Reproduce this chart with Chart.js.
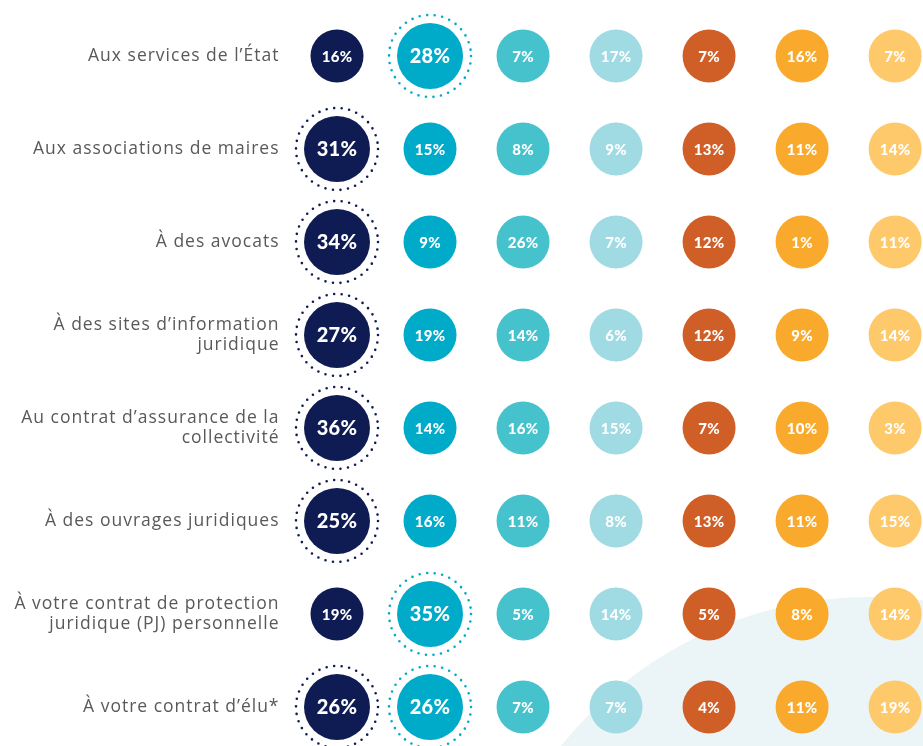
<!DOCTYPE html>
<html lang="fr">
<head>
<meta charset="utf-8">
<title>Vers qui vous tournez-vous ?</title>
<script src="https://cdn.jsdelivr.net/npm/chart.js@4/dist/chart.umd.min.js"></script>
<style>
  html, body { margin: 0; padding: 0; background: #ffffff; }
  #wrap { width: 923px; height: 746px; position: relative; }
</style>
</head>
<body>
<div id="wrap"><canvas id="bulles"></canvas></div>
<script>
// lignes du tableau (sources consultées)
const sources = [
    'Aux services de l’État',
    'Aux associations de maires',
    'À des avocats',
    ['À des sites d’information', 'juridique'],
    ['Au contrat d’assurance de la', 'collectivité'],
    'À des ouvrages juridiques',
    ['À votre contrat de protection', 'juridique (PJ) personnelle'],
    'À votre contrat d’élu*'
];

// une série par colonne, en % (une valeur par ligne)
const serie1 = [16, 31, 34, 27, 36, 25, 19, 26];
const serie2 = [28, 15, 9, 19, 14, 16, 35, 26];
const serie3 = [7, 8, 26, 14, 16, 11, 5, 7];
const serie4 = [17, 9, 7, 6, 15, 8, 14, 7];
const serie5 = [7, 13, 12, 12, 7, 13, 5, 4];
const serie6 = [16, 11, 1, 9, 10, 11, 8, 11];
const serie7 = [7, 14, 11, 14, 3, 15, 14, 19];

const series = [serie1, serie2, serie3, serie4, serie5, serie6, serie7];
const couleurs = ['#0f1b53', '#00aac9', '#46c2cc', '#a0dae3', '#d05f27', '#f9a92b', '#fec96b'];

const R_PETIT = 26.5;
const R_GRAND = 33;

// max de chaque ligne -> bulle agrandie + anneau pointillé
const maxLigne = sources.map((_, i) => Math.max(...series.map(s => s[i])));

const datasets = series.map((s, c) => ({
    data: s.map((v, i) => ({ x: c, y: i, r: v === maxLigne[i] ? R_GRAND : R_PETIT, v: v })),
    backgroundColor: couleurs[c],
    borderWidth: 0,
    hoverBorderWidth: 0,
    clip: false
}));

// forme de fond en bas à droite
const fondPlugin = {
    id: 'fond',
    beforeDraw(chart) {
        const c = chart.ctx;
        c.save();
        c.fillStyle = '#ffffff';
        c.fillRect(0, 0, chart.width, chart.height);
        c.beginPath();
        c.arc(870, 992, 395, 0, Math.PI * 2);
        c.fillStyle = '#ebf5f7';
        c.fill();
        c.restore();
        // un peu d'approche pour les libellés de l'axe
        c.letterSpacing = '1px';
    },
    afterDraw(chart) {
        chart.ctx.letterSpacing = '0px';
    }
};

// pourcentages + anneaux pointillés
const etiquettesPlugin = {
    id: 'etiquettes',
    afterDatasetsDraw(chart) {
        const c = chart.ctx;
        c.save();
        chart.data.datasets.forEach((ds, di) => {
            const meta = chart.getDatasetMeta(di);
            meta.data.forEach((pt, i) => {
                const d = ds.data[i];
                const grand = d.r === R_GRAND;
                if (grand) {
                    c.beginPath();
                    c.arc(pt.x, pt.y, 41, 0, Math.PI * 2);
                    c.setLineDash([0, 7.6]);
                    c.lineCap = 'round';
                    c.lineWidth = 2.6;
                    c.strokeStyle = couleurs[di];
                    c.stroke();
                    c.setLineDash([]);
                }
                c.fillStyle = '#ffffff';
                c.textAlign = 'center';
                c.textBaseline = 'middle';
                c.letterSpacing = '0.3px';
                c.font = (grand ? '900 20px' : '900 15px') + ' Lato, "Open Sans", sans-serif';
                c.fillText(d.v + '%', pt.x, pt.y + 1);
            });
        });
        c.restore();
    }
};

new Chart(document.getElementById('bulles'), {
    type: 'bubble',
    data: { datasets: datasets },
    options: {
        responsive: true,
        maintainAspectRatio: false,
        animation: false,
        layout: { autoPadding: false, padding: { top: 9.5, left: 0, right: 0, bottom: 0 } },
        plugins: {
            legend: { display: false },
            tooltip: { enabled: false }
        },
        scales: {
            x: {
                type: 'linear',
                min: -0.5,
                max: 6.3,
                display: false
            },
            y: {
                type: 'linear',
                reverse: true,
                min: -0.5,
                max: 7.42,
                afterFit(scale) {
                    scale.width = 290.5;
                    scale.paddingTop = 0;
                    scale.paddingBottom = 0;
                },
                afterBuildTicks(scale) {
                    scale.ticks = sources.map((_, i) => ({ value: i }));
                },
                ticks: {
                    padding: 11,
                    color: '#58595b',
                    font: { family: '"Open Sans", sans-serif', size: 17.5, lineHeight: 1.1 },
                    callback: (v) => sources[v]
                },
                grid: { display: false, drawTicks: false },
                border: { display: false }
            }
        }
    },
    plugins: [fondPlugin, etiquettesPlugin]
});
</script>
</body>
</html>
